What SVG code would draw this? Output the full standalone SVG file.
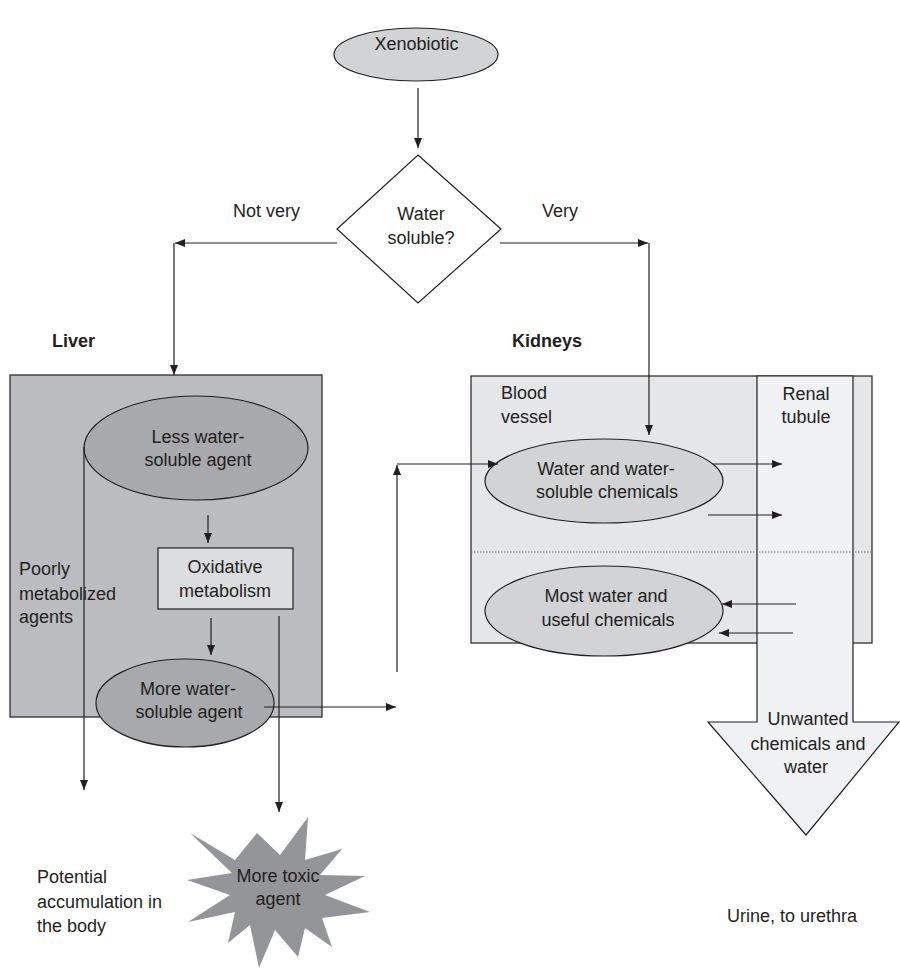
<svg xmlns="http://www.w3.org/2000/svg" width="900" height="970" viewBox="0 0 900 970">
  <style>
    text { font-family: "Liberation Sans", Arial, sans-serif; font-size: 18px; fill: #231f20; }
    .c { text-anchor: middle; }
    .b { font-weight: bold; }
    .edge { fill: none; stroke: #231f20; stroke-width: 1.2; }
    .arr { marker-end: url(#head); }
    .shape { stroke: #231f20; stroke-width: 1.2; }
  </style>
  <defs>
    <marker id="head" markerUnits="userSpaceOnUse" markerWidth="11" markerHeight="9" refX="10" refY="4" orient="auto">
      <path d="M0,0 L10,4 L0,8 z" fill="#231f20"/>
    </marker>
  </defs>

  <rect width="900" height="970" fill="#ffffff"/>

  <!-- organ panels -->
  <g id="liver">
    <rect x="10" y="375" width="312" height="342" fill="#bbbcbf" class="shape"/>
    <text x="52" y="347" class="b">Liver</text>
    <text x="19" y="575">Poorly</text>
    <text x="19" y="600">metabolized</text>
    <text x="19" y="623">agents</text>
  </g>

  <g id="kidneys">
    <rect x="471" y="376" width="401" height="267" fill="#e5e6e8" class="shape"/>
    <text x="512" y="347" class="b">Kidneys</text>
    <text x="501" y="399">Blood</text>
    <text x="501" y="423">vessel</text>
  </g>

  <g id="renal-tubule">
    <polygon points="757,376 853,376 853,722 899,722 806,835 708,722 757,722" fill="#f0f1f2" class="shape"/>
    <text x="806" y="400" class="c">Renal</text>
    <text x="806" y="423" class="c">tubule</text>
    <text x="808" y="725" class="c">Unwanted</text>
    <text x="808" y="750" class="c">chemicals and</text>
    <text x="806" y="773" class="c">water</text>
  </g>

  <!-- separator between filtration and reabsorption -->
  <path d="M471,552 H872" fill="none" stroke="#6d6e71" stroke-width="1" stroke-dasharray="1.5 1.5"/>

  <g id="xenobiotic">
    <ellipse cx="416" cy="54.5" rx="82" ry="26.5" fill="#d1d3d4" class="shape"/>
    <text x="416.5" y="50" class="c">Xenobiotic</text>
  </g>

  <g id="water-soluble">
    <polygon points="418,155 501,229 418,303 337,229" fill="#ffffff" class="shape"/>
    <text x="421" y="220" class="c">Water</text>
    <text x="421" y="244" class="c">soluble?</text>
  </g>

  <g id="less-water-soluble">
    <ellipse cx="196" cy="448" rx="112" ry="52" fill="#a7a9ac" class="shape"/>
    <text x="198" y="443" class="c">Less water-</text>
    <text x="198" y="466" class="c">soluble agent</text>
  </g>

  <g id="oxidative-metabolism">
    <rect x="158" y="548" width="135" height="61" fill="#dcdddf" class="shape"/>
    <text x="225" y="573" class="c">Oxidative</text>
    <text x="225" y="597" class="c">metabolism</text>
  </g>

  <g id="more-water-soluble">
    <ellipse cx="185" cy="703" rx="89" ry="44" fill="#a7a9ac" class="shape"/>
    <text x="188" y="695" class="c">More water-</text>
    <text x="189" y="718" class="c">soluble agent</text>
  </g>

  <g id="water-chemicals">
    <ellipse cx="604" cy="481" rx="119" ry="42" fill="#d1d3d4" class="shape"/>
    <text x="606" y="475" class="c">Water and water-</text>
    <text x="607" y="498" class="c">soluble chemicals</text>
  </g>

  <g id="useful-chemicals">
    <ellipse cx="604" cy="611" rx="119" ry="45" fill="#d1d3d4" class="shape"/>
    <text x="606" y="602" class="c">Most water and</text>
    <text x="608" y="626" class="c">useful chemicals</text>
  </g>

  <g id="toxic-agent">
    <polygon points="190,833 235,860 257,833 280,855 308,817 305,860 342,849 320,875 365,876 325,895 370,912 322,918 332,947 305,928 298,957 275,930 259,968 250,925 228,943 235,912 188,922 230,895 187,880 232,873" fill="#939598"/>
    <text x="278" y="882" class="c">More toxic</text>
    <text x="278" y="905" class="c">agent</text>
  </g>

  <g id="accumulation">
    <text x="37" y="883">Potential</text>
    <text x="37" y="908">accumulation in</text>
    <text x="37" y="932">the body</text>
  </g>

  <g id="urine">
    <text x="727" y="922">Urine, to urethra</text>
  </g>

  <g id="connectors">
    <path d="M418,88 V148" class="edge arr"/>
    <text x="233" y="217">Not very</text>
    <path d="M337,243 H175" class="edge arr"/>
    <path d="M174,243 V375" class="edge arr"/>
    <text x="542" y="217">Very</text>
    <path d="M500,243 H648" class="edge arr"/>
    <path d="M649,243 V435" class="edge arr"/>
    <path d="M208,515 V543" class="edge arr"/>
    <path d="M211,618 V655" class="edge arr"/>
    <path d="M84,447 V790" class="edge arr"/>
    <path d="M279,616 V812" class="edge arr"/>
    <path d="M264,707 H396" class="edge arr"/>
    <path d="M397,672 V465" class="edge arr"/>
    <path d="M397,464 H498" class="edge arr"/>
    <path d="M713,464 H782" class="edge arr"/>
    <path d="M708,515 H782" class="edge arr"/>
    <path d="M796,604 H722" class="edge arr"/>
    <path d="M793,633 H719" class="edge arr"/>
  </g>
</svg>
